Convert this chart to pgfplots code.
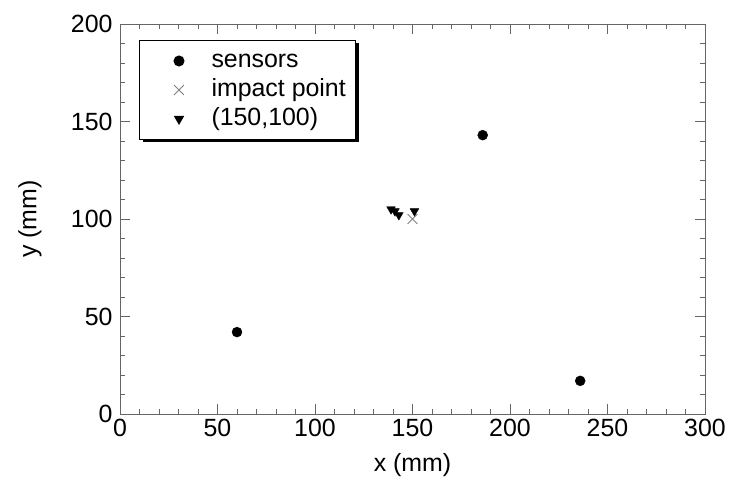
\documentclass[border=0pt]{standalone}
\usepackage{fontspec}
\setmainfont{Liberation Sans}
\usepackage{pgfplots}
\pgfplotsset{compat=1.18}
\usetikzlibrary{shadows}
\begin{document}
\begin{tikzpicture}
\begin{axis}[
  name=ax,
  at={(0,0)}, anchor=south west,
  scale only axis,
  width=585bp, height=390bp,
  xmin=0, xmax=300, ymin=0, ymax=200,
  xtick={0,50,...,300}, ytick={0,50,...,200},
  minor x tick num=4, minor y tick num=4,
  tick align=inside,
  major tick length=10bp, minor tick length=5bp,
  axis line style={black!60, line width=0.8bp},
  every tick/.style={black!60, line width=0.8bp},
  tick label style={font=\fontsize{25}{29}\selectfont},
  /pgf/number format/assume math mode=true,
  xticklabel style={yshift=-2bp},
  yticklabel style={xshift=-4bp},
  label style={font=\fontsize{25}{29}\selectfont},
  xlabel={x (mm)}, ylabel={y (mm)},
  xlabel style={at={(axis description cs:0.5,0)}, anchor=center, yshift=-51bp},
  ylabel style={at={(axis description cs:-0.1538,0.5)}, anchor=center},
  legend style={at={(0.0325,0.959)}, anchor=north west,
    draw=black, line width=1bp, fill=white,
    font=\fontsize{25}{29}\selectfont,
    drop shadow={shadow xshift=3bp, shadow yshift=-3bp, fill=black, opacity=1},
    inner xsep=8bp, inner ysep=6bp, row sep=0bp,
    nodes={inner ysep=3bp, text height=18bp, text depth=5bp}},
  legend cell align=left,
  legend image code/.code={\path (0,0) (61bp,0); \draw[#1] plot coordinates {(31bp,0)};},
]
\addplot[only marks, mark=*, mark size=5bp, black] coordinates {(60,42) (186,143) (236,17)};
\addlegendentry{sensors}
\addplot[only marks, mark=x, mark size=7bp, black!50, mark options={line width=0.8bp}] coordinates {(150,100)};
\addlegendentry{impact point}
\addplot[only marks, mark=triangle*, mark size=5bp, black, mark options={rotate=180}] coordinates {(139,105) (141,104) (143,102) (151,104)};
\addlegendentry{(150,100)}
\end{axis}
\pgfresetboundingbox
\path[use as bounding box] (-120bp,-66bp) rectangle (611bp,414bp);
\end{tikzpicture}
\end{document}
